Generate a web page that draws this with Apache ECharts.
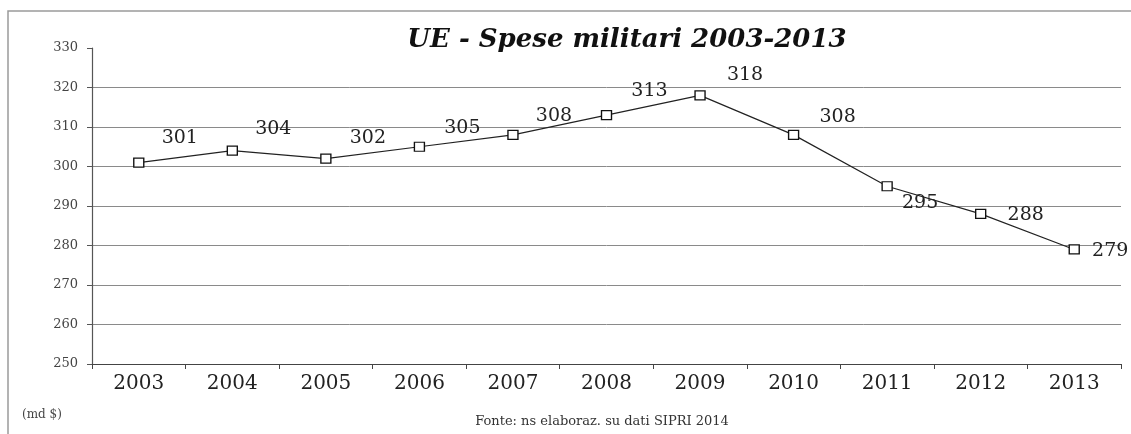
<!DOCTYPE html>
<html>
<head>
<meta charset="utf-8">
<script src="https://cdn.jsdelivr.net/npm/echarts@6/dist/echarts.min.js"></script>
<style>
html,body{margin:0;padding:0;background:#fff;}
#chart{width:1131px;height:434px;}
</style>
</head>
<body>
<div id="chart"></div>
<script>
const years = ['2003','2004','2005','2006','2007','2008','2009','2010','2011','2012','2013'];
const spending = [301, 304, 302, 305, 308, 313, 318, 308, 295, 288, 279];
const titleText = 'UE - Spese militari 2003-2013';
const unitText = '(md $)';
const sourceText = 'Fonte: ns elaboraz. su dati SIPRI 2014';
// label placement (style): offsets from each marker
const labelOffsets = [[41,-24],[41,-22],[42,-21],[43,-19],[41,-19],[43,-24],[45,-20],[44,-18],[33,17],[45,1],[36,2]];

const serif = '"DejaVu Serif", "Liberation Serif", serif';
const chart = echarts.init(document.getElementById('chart'), null, {renderer:'canvas'});
const splitColors = ['transparent','#8a8a8a','#8a8a8a','#8a8a8a','#8a8a8a','#8a8a8a','#8a8a8a','#8a8a8a','transparent'];

chart.setOption({
  animation: false,
  backgroundColor: '#fff',
  title: {
    text: titleText,
    left: 622, top: 22, textAlign: 'center',
    textStyle: {fontFamily: serif, fontSize: 26, fontWeight: 'bold', fontStyle: 'italic', color: '#111'}
  },
  grid: {left: 92, right: 10, top: 48, bottom: 70, containLabel: false},
  xAxis: {
    type: 'category',
    data: years,
    boundaryGap: true,
    axisLine: {lineStyle: {color: '#444', width: 1.2}},
    axisTick: {show: true, length: 5, lineStyle: {color: '#444'}},
    axisLabel: {fontFamily: serif, fontSize: 20, color: '#222', margin: 10}
  },
  yAxis: {
    type: 'value',
    min: 250, max: 330, interval: 10,
    axisLine: {show: true, lineStyle: {color: '#555', width: 1.2}},
    axisTick: {show: true, length: 5, lineStyle: {color: '#555'}},
    axisLabel: {fontFamily: serif, fontSize: 13, color: '#444', margin: 14},
    splitLine: {show: true, lineStyle: {color: splitColors, width: 1}}
  },
  series: [{
    type: 'line',
    data: spending.map((v, i) => ({
      value: v,
      label: {offset: labelOffsets[i]}
    })),
    symbol: 'rect',
    symbolSize: [10, 9],
    showAllSymbol: true,
    lineStyle: {color: '#222', width: 1.2},
    itemStyle: {color: '#fff', borderColor: '#111', borderWidth: 1.3},
    label: {
      show: true,
      position: 'inside',
      fontFamily: serif, fontSize: 19, color: '#222'
    },
    z: 5
  }],
  graphic: [
    {type: 'rect', shape: {x: 8, y: 11, width: 1140, height: 440}, style: {fill: 'none', stroke: '#9a9a9a', lineWidth: 1.5}, z: -1, silent: true},
    {type: 'text', x: 22, y: 415, style: {text: unitText, fontFamily: serif, fontSize: 12, fill: '#444', textVerticalAlign: 'middle'}},
    {type: 'text', x: 602, y: 422, style: {text: sourceText, fontFamily: serif, fontSize: 13, fill: '#333', textAlign: 'center', textVerticalAlign: 'middle'}}
  ]
});
</script>
</body>
</html>
